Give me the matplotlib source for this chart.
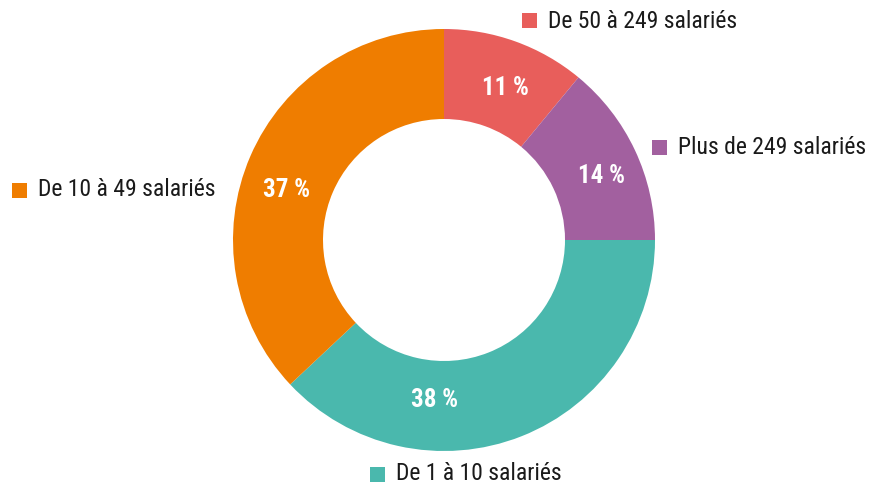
import matplotlib
matplotlib.use("Agg")
import matplotlib.pyplot as plt
from matplotlib.patches import Rectangle

categories = ["De 50 à 249 salariés", "Plus de 249 salariés", "De 1 à 10 salariés", "De 10 à 49 salariés"]
values = [11, 14, 38, 37]
pct_labels = ["11 %", "14 %", "38 %", "37 %"]
colors = ["#E85E5B", "#A2609F", "#4AB8AD", "#EF7D00"]

W, H = 869, 495
fig = plt.figure(figsize=(W / 100, H / 100), dpi=100)
cx, cy, R = 444, 240, 211
ax = fig.add_axes([(cx - R) / W, (H - cy - R) / H, 2 * R / W, 2 * R / H])

ax.pie(values, colors=colors, startangle=90, counterclock=False, radius=1,
       wedgeprops=dict(width=90 / 211, linewidth=0))
ax.set_xlim(-1, 1)
ax.set_ylim(-1, 1)
ax.axis("off")

def px(x, y):
    return ((x - cx) / R, (cy - y) / R)

font = ["Roboto Condensed", "DejaVu Sans"]

# percentage labels
pct_pos = [(505, 88), (602, 176), (435, 400), (287, 190)]
for lab, (x, y) in zip(pct_labels, pct_pos):
    dx, dy = px(x, y)
    ax.text(dx, dy, lab, ha="center", va="center", color="white",
            fontsize=18, fontweight="bold", family=font)

# category labels with square markers
leg_pos = [(522, 21), (652, 147), (370, 474), (12, 190)]
sq = 15
for cat, col, (x, y) in zip(categories, colors, leg_pos):
    x0, y0 = px(x, y + sq / 2)
    ax.add_patch(Rectangle((x0, y0), sq / R, sq / R, facecolor=col,
                           edgecolor="none", clip_on=False))
    tx, ty = px(x + sq + 11, y)
    ax.text(tx, ty, cat, ha="left", va="center", color="#1a1a1a",
            fontsize=17, family=font, clip_on=False)

fig.savefig("out.png", dpi=100)
